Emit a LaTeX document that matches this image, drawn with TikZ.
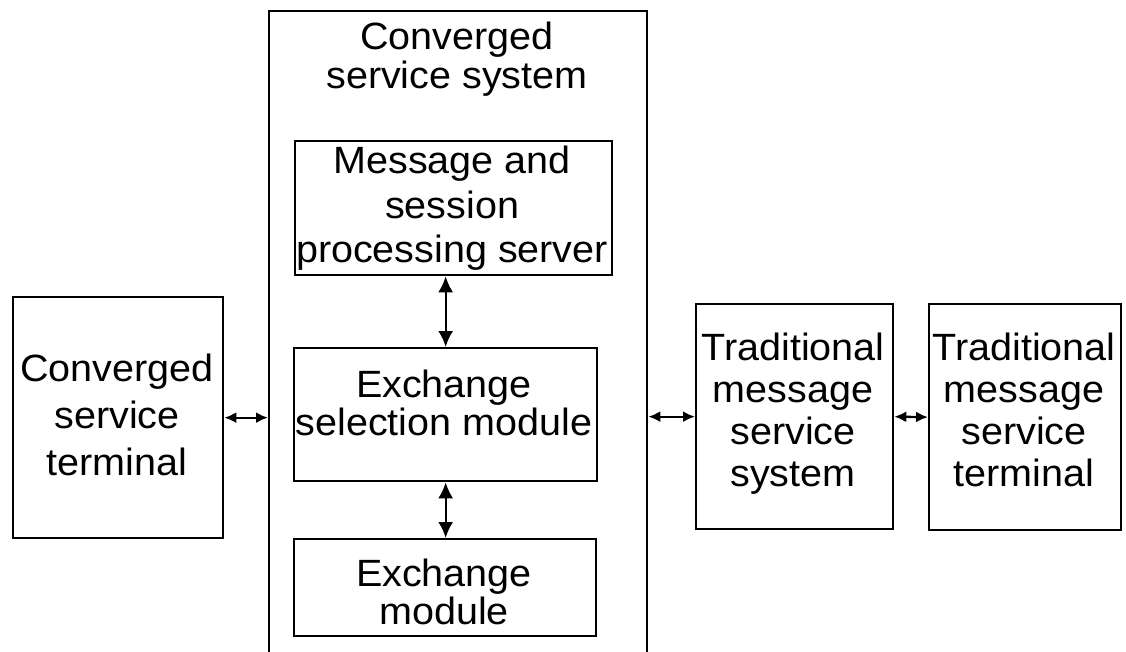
\documentclass[tikz,border=0pt]{standalone}
\usepackage{fontspec}
\setmainfont{Liberation Sans}[FakeStretch=1.04]
\usetikzlibrary{arrows.meta}
\begin{document}
\begin{tikzpicture}[x=1pt,y=-1pt,
  box/.style={draw, line width=2.3pt, inner sep=0pt, anchor=north west},
  lbl/.style={inner sep=0pt, align=center, anchor=north},
  hlink/.style={line width=2.3pt, {Latex[length=12pt,width=11pt]}-{Latex[length=12pt,width=11pt]}},
  vlink/.style={line width=2.3pt, {Latex[length=16pt,width=15pt]}-{Latex[length=16pt,width=15pt]}}]
\clip (0,0) rectangle (1126,652);
\fill[white] (0,0) rectangle (1126,652);
% boxes
\node[box, minimum width=210pt, minimum height=241pt] (cst) at (12,296) {};
\node[box, minimum width=378pt, minimum height=660pt] (css) at (268,10) {};
\node[box, minimum width=317pt, minimum height=134pt] (msp) at (294,140) {};
\node[box, minimum width=303pt, minimum height=133pt] (esm) at (293,347) {};
\node[box, minimum width=302pt, minimum height=97pt] (exm) at (293,538) {};
\node[box, minimum width=197pt, minimum height=225pt] (tms) at (695,303) {};
\node[box, minimum width=192pt, minimum height=226pt] (tmt) at (928,303) {};
% labels
\node[lbl, font=\fontsize{38}{39}\selectfont] (tcss) at (457,22) {Converged\\service system};
\node[lbl, font=\fontsize{38}{47}\selectfont] (tcst) at (117,354) {Converged\\service\\terminal};
\node[lbl, font=\fontsize{38}{44.5}\selectfont] (tmsp) at (452,146) {Message and\\session\\processing server};
\node[lbl, font=\fontsize{38}{37.5}\selectfont] (tesm) at (444,370) {Exchange\\selection module};
\node[lbl, font=\fontsize{38}{37.5}\selectfont] (texm) at (444,559) {Exchange\\module};
\node[lbl, font=\fontsize{38}{42}\selectfont] (ttms) at (793,333) {Traditional\\message\\service\\system};
\node[lbl, font=\fontsize{38}{42}\selectfont] (ttmt) at (1024,333) {Traditional\\message\\service\\terminal};
% connectors
\draw[hlink] (cst.east) -- (cst.east -| css.west);
\draw[hlink] (tms.west -| css.east) -- (tms.west);
\draw[hlink] (tms.east) -- (tmt.west);
\draw[vlink] (esm.north |- msp.south) -- (esm.north);
\draw[vlink] (esm.south) -- (esm.south |- exm.north);
\end{tikzpicture}
\end{document}
